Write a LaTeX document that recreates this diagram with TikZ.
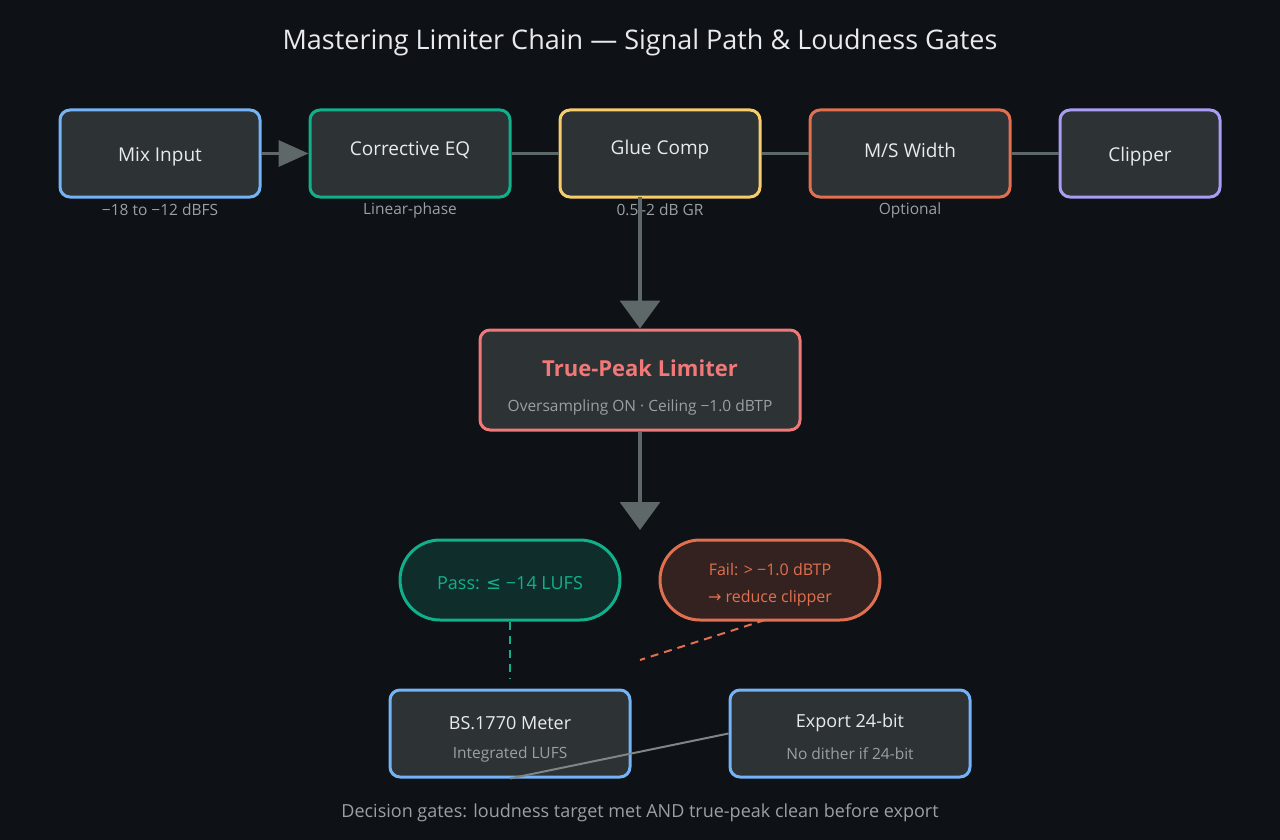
\documentclass[tikz,border=0pt]{standalone}
\usepackage{fontspec}
\setmainfont{Open Sans}
\newfontfamily\symf{DejaVu Sans}
\usetikzlibrary{arrows.meta}
\definecolor{bg}{HTML}{0E1116}
\definecolor{boxfill}{HTML}{2D3235}
\definecolor{cblue}{HTML}{74B3F5}
\definecolor{cgreen}{HTML}{12B08A}
\definecolor{cyellow}{HTML}{F7CE6B}
\definecolor{corange}{HTML}{E0704F}
\definecolor{cpurple}{HTML}{A99CF5}
\definecolor{cred}{HTML}{F07878}
\definecolor{conn}{HTML}{5F6869}
\definecolor{subc}{HTML}{9AA0A4}
\definecolor{txt}{HTML}{E8EAEC}
\tikzset{
 box/.style={draw, line width=3pt, rounded corners=10pt, fill=boxfill, minimum width=200pt, minimum height=87pt, inner sep=0pt},
 lbl/.style={text=txt, font=\fontsize{19}{22}\selectfont},
 sub/.style={text=subc, font=\fontsize{15.5}{18}\selectfont},
 link/.style={draw=conn, line width=3.5pt},
 bigarrow/.style={draw=conn, line width=3.5pt, -{Triangle[width=40pt,length=28pt]}},
 smallarrow/.style={draw=conn, line width=3.5pt, -{Triangle[width=26pt,length=30pt]}},
 pill/.style={draw, line width=3pt, rounded corners=40pt, minimum width=220pt, minimum height=80pt, inner sep=0pt},
}
\begin{document}
\begin{tikzpicture}[x=1pt,y=-1pt]
\fill[bg] (0,0) rectangle (1280,840);
\useasboundingbox (0,0) rectangle (1280,840);
\node[text=txt, font=\fontsize{27}{30}\selectfont] (title) at (640,42) {Mastering Limiter Chain — Signal Path \& Loudness Gates};

\node[box, draw=cblue] (mix) at (160,153.5) {};
\node[lbl] at (160,157) {Mix Input};
\node[sub] (mixs) at (160,210) {−18 to −12 dBFS};
\node[box, draw=cgreen] (eq) at (410,153.5) {};
\node[lbl] at (410,150) {Corrective EQ};
\node[sub] (eqs) at (410,210) {Linear-phase};
\node[box, draw=cyellow] (glue) at (660,153.5) {};
\node[lbl] at (660,150) {Glue Comp};
\node[box, draw=corange] (ms) at (910,153.5) {};
\node[lbl] at (910,150) {M/S Width};
\node[sub] (mss) at (910,210) {Optional};
\node[box, draw=cpurple, minimum width=160pt] (clip) at (1140,153.5) {};
\node[lbl] at (1140,157) {Clipper};

\draw[smallarrow] (mix.east) -- (eq.west);
\draw[link] (eq.east) -- (glue.west);
\draw[link] (glue.east) -- (ms.west);
\draw[link] (ms.east) -- (clip.west);

\node[box, draw=cred, minimum width=320pt, minimum height=100pt] (lim) at (640,380) {};
\node[text=cred, font=\bfseries\fontsize{22}{24}\selectfont] at (640,368) {True-Peak Limiter};
\node[sub] at (640,407) {Oversampling ON · Ceiling −1.0 dBTP};

\coordinate (glueb) at (640,197);
\draw[bigarrow] (glueb) -- (lim.north);
\node[sub] (glues) at (660,210) {0.5–2 dB GR};
\draw[conn, line width=3.5pt] (640,203) -- (640,217);

\coordinate (gate) at (640,530);
\draw[bigarrow] (lim.south) -- (gate);

\node[pill, draw=cgreen, fill=cgreen!18!bg] (pass) at (510,580) {};
\node[text=cgreen, font=\fontsize{18}{20}\selectfont] at (510,583) {Pass: {\symf ≤} −14 LUFS};
\node[pill, draw=corange, fill=corange!18!bg] (fail) at (770,580) {};
\node[text=corange, font=\fontsize{16}{18}\selectfont] at (770,570) {Fail: > −1.0 dBTP};
\node[text=corange, font=\fontsize{16}{18}\selectfont] at (770,598) {{\symf →} reduce clipper};

\node[box, draw=cblue, minimum width=240pt] (meter) at (510,733.5) {};
\node[lbl, font=\fontsize{18}{20}\selectfont] at (510,723) {BS.1770 Meter};
\node[sub] at (510,754) {Integrated LUFS};
\node[box, draw=cblue, minimum width=240pt] (exp) at (850,733.5) {};
\node[lbl, font=\fontsize{18}{20}\selectfont] at (850,723) {Export 24-bit};
\node[sub] at (850,754) {No dither if 24-bit};

\coordinate (passend) at (510,678);
\draw[cgreen, line width=2pt, dash pattern=on 8pt off 6pt] (pass.south) -- (passend);
\coordinate (failstart) at (765,620);
\coordinate (failend) at (640,660);
\draw[corange, line width=2pt, dash pattern=on 8pt off 6pt] (failstart) -- (failend);
\draw[conn!80!white, line width=2pt] (meter.south) -- (exp.west);

\node[sub, font=\fontsize{18}{20}\selectfont] (foot) at (640,813) {Decision gates: loudness target met AND true-peak clean before export};
\end{tikzpicture}
\end{document}
